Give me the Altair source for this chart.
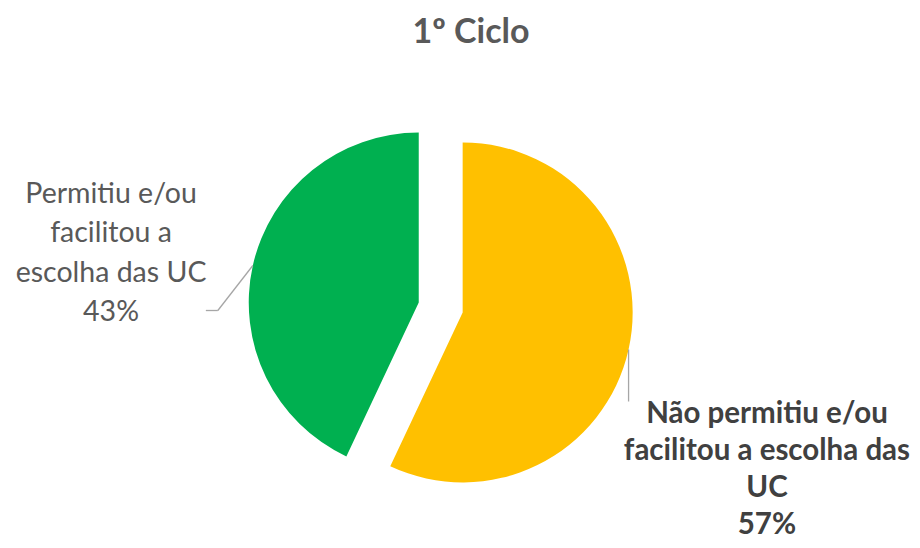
import altair as alt
import pandas as pd

# ---- data ----
categories = [
    "Não permitiu e/ou facilitou a escolha das UC",
    "Permitiu e/ou facilitou a escolha das UC",
]
label_wrapped = [
    "Não permitiu e/ou|facilitou a escolha das|UC",
    "Permitiu e/ou|facilitou a|escolha das UC",
]
values = [57, 43]
order = [0, 1]
colors = ["#FFC000", "#00B050"]
title_text = "1º Ciclo"

df = pd.DataFrame({"categoria": categories, "rotulo": label_wrapped,
                   "valor": values, "ordem": order})

# ---- layout constants ----
W, H = 904, 532
CX, CY = 432.7, 299.5       # centre of the (un-exploded) pie
R = 170                     # radius
EXPLODE = 22.5              # explosion distance
FONT = "Lato"

base = (
    alt.Chart(df)
    .transform_joinaggregate(total="sum(valor)")
    .transform_window(cum="sum(valor)", sort=[alt.SortField("ordem")])
    .transform_calculate(
        t0="2*PI*(datum.cum - datum.valor)/datum.total",
        t1="2*PI*datum.cum/datum.total",
    )
    .transform_calculate(mid="(datum.t0 + datum.t1)/2")
    .transform_calculate(
        cx=f"{CX} + {EXPLODE}*sin(datum.mid)",
        cy=f"{CY} - {EXPLODE}*cos(datum.mid)",
    )
    .transform_calculate(
        ex=f"datum.cx + {R}*sin(datum.mid)",
        ey=f"datum.cy - {R}*cos(datum.mid)",
        texto="datum.rotulo + '|' + format(datum.valor/datum.total, '.0%')",
    )
)

def X(f):
    return alt.X(f, type="quantitative", scale=None, axis=None, stack=False)

def Y(f):
    return alt.Y(f, type="quantitative", scale=None, axis=None, stack=False)

pie = base.mark_arc(radius=R, strokeWidth=0).encode(
    theta=alt.Theta("t0:Q", scale=None, stack=False),
    theta2="t1:Q",
    x=X("cx"),
    y=Y("cy"),
    color=alt.Color("categoria:N", scale=alt.Scale(domain=categories, range=colors), legend=None),
)

LEADER = dict(color="#A6A6A6", strokeWidth=1.3)

# green slice (Permitiu) : label on the left
green = base.transform_filter(alt.datum.ordem == 1)
green_lead1 = green.transform_calculate(
    lx="datum.ex - 35", ly="datum.ey + 45"
).mark_rule(**LEADER).encode(x=X("ex"), y=Y("ey"), x2="lx:Q", y2="ly:Q")
green_lead2 = green.transform_calculate(
    lx="datum.ex - 35", lx2="datum.ex - 47", ly="datum.ey + 45"
).mark_rule(**LEADER).encode(x=X("lx"), x2="lx2:Q", y=Y("ly"))
green_label = green.mark_text(
    font=FONT, fontSize=28.5, color="#595959", align="center", baseline="alphabetic",
    lineBreak="|", lineHeight=39.3, dx=-307.7, dy=-99.5,
).encode(x=X("cx"), y=Y("cy"), text="texto:N")

# yellow slice (Não permitiu) : label bottom right
yellow = base.transform_filter(alt.datum.ordem == 0)
yellow_lead = yellow.transform_calculate(
    ly="datum.ey + 52"
).mark_rule(**LEADER).encode(x=X("ex"), y=Y("ey"), y2="ly:Q")
yellow_label = yellow.mark_text(
    font=FONT, fontSize=29.5, fontWeight="bold", color="#404040", align="center",
    baseline="alphabetic", lineBreak="|", lineHeight=37, dx=304.3, dy=110.3,
).encode(x=X("cx"), y=Y("cy"), text="texto:N")

chart = (
    alt.layer(pie, green_lead1, green_lead2, green_label, yellow_lead, yellow_label)
    .properties(
        width=W, height=H,
        title=alt.TitleParams(title_text, font=FONT, fontSize=34, fontWeight="bold",
                              color="#595959", anchor="middle", frame="group",
                              baseline="alphabetic", offset=-68.5, dx=11),
        autosize=alt.AutoSizeParams(type="none"),
        padding=0,
    )
    .configure_view(stroke=None)
)

chart.save("out.html", embed_options={"renderer": "svg", "actions": False})
